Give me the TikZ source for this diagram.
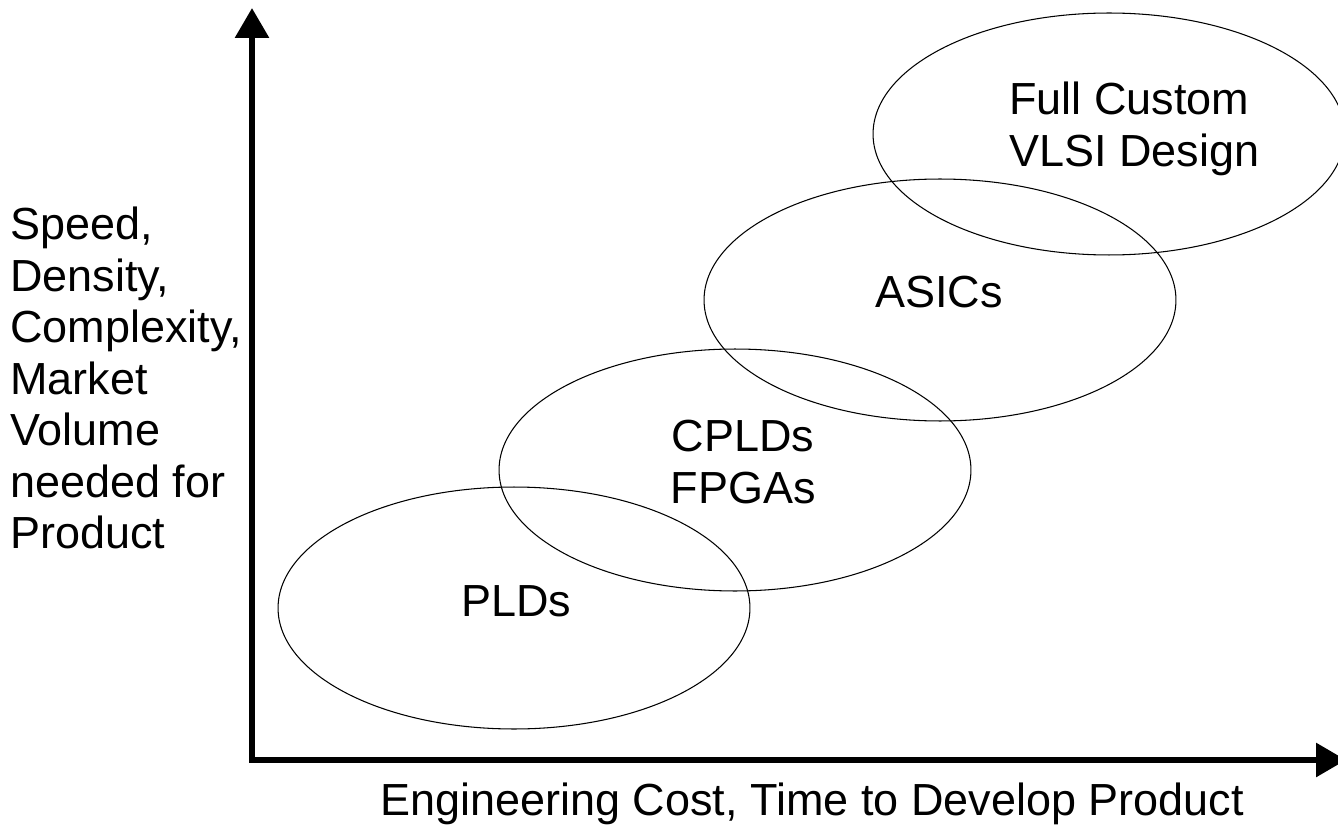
\documentclass[tikz,border=0pt]{standalone}
\usepackage{fontspec}
\setmainfont{Liberation Sans}
\usetikzlibrary{shapes.geometric, arrows.meta}

\tikzset{
  blob/.style={ellipse, draw, line width=0.6pt, minimum width=9.44cm, minimum height=4.84cm, inner sep=0pt},
  lbl/.style={inner sep=0pt, font=\fontsize{25.6pt}{29.3pt}\selectfont},
  axis/.style={line width=0.12cm, {Triangle[length=0.6cm,width=0.66cm]}-{Triangle[length=0.6cm,width=0.66cm]}}
}

\begin{document}
\begin{tikzpicture}[x=0.02cm, y=-0.02cm]
        \useasboundingbox (0,0) rectangle (1338,827);
        % axes
        \coordinate (origin) at (252,760);
        \coordinate (ytip) at (252,8);
        \coordinate (xtip) at (1346,760);
        \draw[axis] (ytip) -- (origin) -- (xtip);
        % ellipses
        \node[blob] (pld) at (514,608) {};
        \node[blob] (cpld) at (735,470) {};
        \node[blob] (asic) at (940,300) {};
        \node[blob] (vlsi) at (1109,134) {};
        % texts
        \node[lbl, anchor=base] (pld-txt) at (516,616) {PLDs};
        \node[lbl, anchor=north, align=center] (cpld-txt) at (743,420) {CPLDs\\FPGAs};
        \node[lbl, anchor=base] (asic-txt) at (939,308) {ASICs};
        \node[lbl, anchor=north west, align=left] (vlsi-txt) at (1009,82) {Full Custom\\VLSI Design};
        \node[lbl, anchor=north west, align=left] (y-txt) at (10,207) {Speed,\\Density,\\Complexity,\\Market\\Volume\\needed for\\Product};
        \node[lbl, anchor=base] (x-txt) at (812,815) {Engineering Cost, Time to Develop Product};
\end{tikzpicture}
\end{document}
